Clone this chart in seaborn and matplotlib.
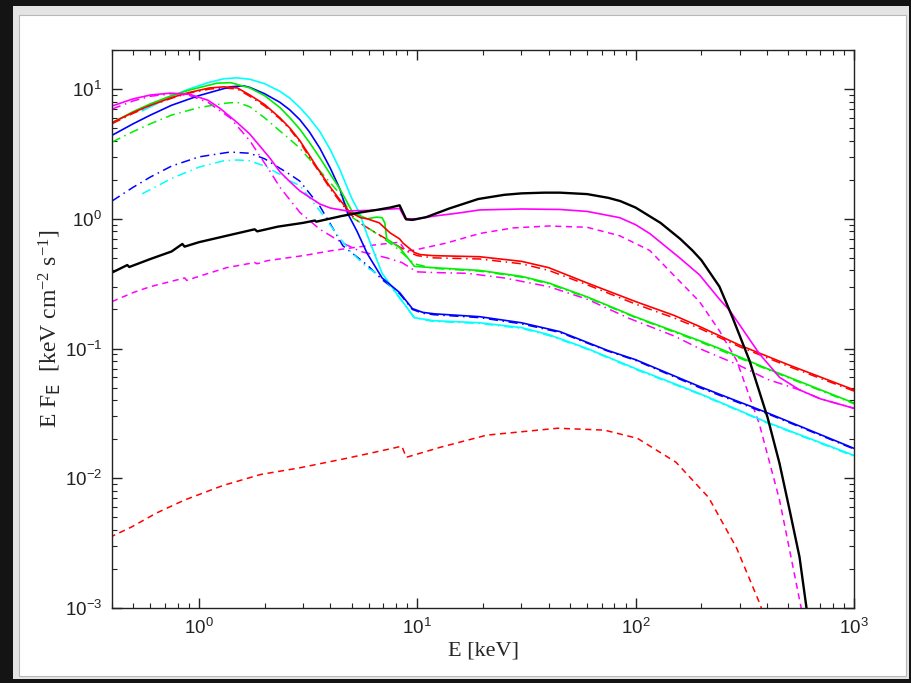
import matplotlib

matplotlib.use("Agg")
import matplotlib.pyplot as plt
import numpy as np
import pandas as pd
import seaborn as sns
from matplotlib.patches import Rectangle
from matplotlib.ticker import LogLocator, NullFormatter

# ---- data (E in keV, E*F_E in keV cm^-2 s^-1) ----
black_e = [0.40, 0.47, 0.48, 0.60, 0.75, 0.84, 0.86, 1.00, 1.34, 1.80, 1.85, 2.30,
           3.00, 3.40, 3.45, 4.50, 5.50, 6.50, 7.50, 8.30, 8.90, 9.50, 11.0, 14.0,
           19.0, 25.0, 30.0, 38.0, 45.0, 60.0, 75.0, 85.0, 100, 130, 160, 182, 200,
           242, 278, 332, 402, 456, 507, 563, 606, 640]
black_f = [0.385, 0.44, 0.425, 0.49, 0.56, 0.64, 0.61, 0.66, 0.74, 0.83, 0.80, 0.87,
           0.93, 0.97, 0.95, 1.05, 1.12, 1.17, 1.22, 1.27, 0.99, 0.98, 1.03, 1.20,
           1.42, 1.53, 1.57, 1.59, 1.59, 1.55, 1.45, 1.37, 1.22, 0.93, 0.70, 0.57, 0.48,
           0.30, 0.173, 0.081, 0.0294, 0.013, 0.0057, 0.00247, 0.001, 0.0005]

mag_e = [0.40, 0.50, 0.60, 0.74, 0.91, 1.10, 1.25, 1.50, 1.71, 2.11, 2.35, 2.61, 2.90,
         3.58, 4.00, 4.76, 6.00, 7.00, 8.30, 8.80, 10.0, 12.0, 15.6, 19.3, 30.0, 45.0,
         60.0, 84.5, 100, 116, 159, 196, 242, 270, 369, 456, 563, 700, 1000]
mag_f = [7.4, 8.4, 9.0, 9.3, 9.1, 8.2, 7.1, 5.5, 4.5, 2.95, 2.3, 1.93, 1.64,
         1.30, 1.21, 1.15, 1.16, 1.18, 1.20, 1.00, 1.00, 1.05, 1.11, 1.17, 1.19, 1.18,
         1.14, 1.02, 0.90, 0.77, 0.50, 0.37, 0.24, 0.196, 0.091, 0.060, 0.048, 0.041, 0.0346]

mag_dd_e = [0.40, 0.50, 0.60, 0.75, 0.91, 1.10, 1.39, 1.71, 2.11, 2.35, 2.61, 2.90,
            3.58, 4.56, 5.50, 7.25, 8.50, 9.95, 12.0, 16.9, 25.0, 40.0, 60.0, 94.0,
            150, 196, 299, 400, 563, 700, 1000]
mag_dd_f = [7.0, 8.1, 8.8, 9.2, 8.9, 7.9, 6.0, 4.0, 2.34, 1.75, 1.40, 1.12,
            0.83, 0.65, 0.56, 0.50, 0.46, 0.39, 0.385, 0.38, 0.35, 0.30, 0.24, 0.17,
            0.125, 0.10, 0.074, 0.058, 0.048, 0.041, 0.0346]

mag_ds_e = [0.40, 0.50, 0.60, 0.75, 0.86, 0.88, 1.00, 1.34, 1.80, 1.85, 2.05, 3.00,
            4.10, 5.50, 7.00, 8.30, 8.80, 9.50, 13.6, 19.3, 27.4, 40.0, 60.0, 84.5,
            116, 159, 196, 242, 290, 369, 456, 507, 573, 610]
mag_ds_f = [0.23, 0.27, 0.30, 0.33, 0.35, 0.335, 0.36, 0.42, 0.46, 0.45, 0.475, 0.52,
            0.57, 0.61, 0.64, 0.66, 0.57, 0.57, 0.65, 0.77, 0.85, 0.88, 0.86, 0.74,
            0.57, 0.33, 0.23, 0.137, 0.081, 0.026, 0.0068, 0.0028, 0.001, 0.0006]

red_e = [0.40, 0.50, 0.60, 0.75, 0.90, 1.12, 1.30, 1.50, 1.71, 2.00, 2.35, 2.61, 2.90,
         3.20, 3.58, 4.00, 4.42, 4.90, 5.50, 5.90, 6.70, 7.50, 8.30, 8.60, 9.70, 10.3,
         11.8, 19.3, 30.0, 40.0, 60.0, 100, 150, 196, 300, 500, 1000]
red_f = [5.5, 6.6, 7.5, 8.6, 9.4, 10.2, 10.4, 10.2, 9.0, 7.6, 6.0, 5.0, 4.0,
         3.1, 2.3, 1.75, 1.40, 1.13, 1.02, 1.00, 0.93, 0.78, 0.70, 0.65, 0.55, 0.53,
         0.52, 0.51, 0.47, 0.42, 0.32, 0.23, 0.18, 0.148, 0.106, 0.075, 0.048]

red_dd_e = [0.40, 0.50, 0.60, 0.75, 0.90, 1.12, 1.30, 1.50, 1.71, 2.00, 2.35, 2.61,
            2.90, 3.20, 3.58, 4.00, 4.42, 4.90, 5.50, 6.00, 7.00, 8.00, 9.00, 10.0,
            11.8, 19.3, 30.0, 40.0, 60.0, 100, 150, 196, 300, 500, 1000]
red_dd_f = [5.4, 6.5, 7.4, 8.5, 9.3, 10.0, 10.2, 10.0, 8.8, 7.4, 5.9, 4.9,
            3.9, 3.0, 2.25, 1.7, 1.36, 1.10, 0.92, 0.84, 0.72, 0.63, 0.56, 0.52,
            0.50, 0.49, 0.45, 0.40, 0.31, 0.22, 0.172, 0.143, 0.103, 0.073, 0.047]

red_ds_e = [0.39, 0.49, 0.64, 0.86, 1.29, 1.92, 2.87, 4.70, 7.70, 8.50, 8.90, 12.7,
            20.8, 44.0, 72.0, 102, 153, 216, 290, 373, 400]
red_ds_f = [0.0035, 0.0042, 0.0054, 0.0068, 0.0088, 0.0107, 0.012, 0.0142, 0.017,
            0.0177, 0.0145, 0.0173, 0.0215, 0.0243, 0.0235, 0.0203, 0.0133, 0.0071,
            0.0029, 0.00105, 0.0007]

green_e = [0.40, 0.50, 0.60, 0.75, 0.90, 1.21, 1.40, 1.71, 2.00, 2.35, 2.61, 2.90,
           3.20, 3.58, 4.00, 4.42, 5.06, 5.90, 6.50, 6.90, 7.10, 7.25, 8.30, 9.70,
           11.8, 19.3, 30.0, 40.0, 60.0, 100, 196, 242, 400, 1000]
green_f = [5.5, 6.7, 7.7, 8.9, 9.8, 11.1, 11.2, 10.2, 8.9, 7.2, 6.0, 4.9,
           3.9, 2.95, 2.2, 1.70, 1.12, 1.00, 1.03, 1.02, 0.93, 0.70, 0.60, 0.43,
           0.42, 0.40, 0.36, 0.32, 0.25, 0.175, 0.115, 0.10, 0.07, 0.038]

green_dd_e = [0.40, 0.50, 0.60, 0.75, 1.00, 1.34, 1.50, 1.71, 2.00, 2.35, 2.61, 2.90,
              3.58, 4.42, 5.06, 6.50, 8.00, 9.70, 11.8, 19.3, 30.0, 40.0, 60.0, 100,
              196, 400, 1000]
green_dd_f = [3.9, 4.7, 5.4, 6.3, 7.2, 7.8, 7.9, 7.3, 6.0, 4.75, 4.1, 3.5,
              2.34, 1.56, 1.02, 0.77, 0.60, 0.45, 0.415, 0.395, 0.355, 0.315, 0.247, 0.173,
              0.113, 0.069, 0.0375]

blue_e = [0.40, 0.50, 0.60, 0.75, 1.00, 1.39, 1.60, 1.71, 2.00, 2.35, 2.61, 2.90,
          3.20, 3.58, 4.00, 4.42, 4.80, 5.30, 5.90, 6.90, 8.30, 9.50, 10.6, 12.0,
          19.3, 30.0, 45.0, 74.0, 100, 196, 400, 1000]
blue_f = [4.4, 5.4, 6.3, 7.5, 8.9, 10.4, 10.6, 10.3, 9.2, 7.9, 6.9, 5.8,
          4.7, 3.5, 2.45, 1.70, 1.10, 0.80, 0.54, 0.35, 0.27, 0.203, 0.19, 0.185,
          0.176, 0.158, 0.135, 0.097, 0.082, 0.051, 0.032, 0.017]

blue_dd_e = [0.40, 0.50, 0.60, 0.75, 1.00, 1.39, 1.71, 2.00, 2.35, 2.61, 2.90, 3.58,
             4.10, 4.56, 5.90, 6.90, 8.30, 9.50, 10.6, 12.0, 19.3, 30.0, 45.0, 74.0,
             100, 196, 400, 1000]
blue_dd_f = [1.37, 1.75, 2.1, 2.55, 3.0, 3.27, 3.2, 2.9, 2.45, 2.2, 1.95, 1.25,
             0.85, 0.62, 0.44, 0.34, 0.265, 0.20, 0.187, 0.182, 0.173, 0.155, 0.133, 0.096,
             0.081, 0.050, 0.0315, 0.0168]

cyan_e = [0.55, 0.65, 0.75, 0.90, 1.10, 1.30, 1.49, 1.71, 2.00, 2.35, 2.61, 2.90,
          3.20, 3.58, 4.00, 4.42, 5.00, 5.46, 5.90, 6.90, 8.30, 9.70, 11.8, 19.3,
          30.0, 40.0, 60.0, 100, 196, 400, 1000]
cyan_f = [6.8, 7.8, 8.8, 10.0, 11.2, 12.0, 12.2, 11.9, 11.0, 9.6, 8.5, 7.2,
          6.0, 4.7, 3.4, 2.4, 1.45, 1.09, 0.75, 0.38, 0.247, 0.173, 0.164, 0.158,
          0.145, 0.128, 0.100, 0.070, 0.045, 0.027, 0.015]

cyan_dd_e = [0.55, 0.65, 0.75, 1.00, 1.30, 1.50, 1.71, 2.00, 2.35, 2.61, 2.90, 3.58,
             4.42, 5.00, 5.90, 6.90, 8.30, 9.70, 11.8, 19.3, 30.0, 40.0, 60.0, 100,
             196, 400, 1000]
cyan_dd_f = [1.56, 1.8, 2.05, 2.5, 2.8, 2.84, 2.8, 2.55, 2.2, 1.96, 1.8, 1.15,
             0.71, 0.55, 0.42, 0.36, 0.245, 0.172, 0.162, 0.156, 0.143, 0.126, 0.099, 0.069,
             0.0445, 0.0267, 0.0148]

DASH = (0, (4, 3))
DASHDOT = (0, (6, 3, 1, 3))

# (energies, fluxes, colour, linestyle, linewidth), drawn back to front
series = [
    (red_ds_e, red_ds_f, "#ff0000", DASH, 1.1),
    (mag_ds_e, mag_ds_f, "#ff00ff", DASH, 1.1),
    (mag_dd_e, mag_dd_f, "#ff00ff", DASHDOT, 1.1),
    (green_dd_e, green_dd_f, "#00ee00", DASHDOT, 1.1),
    (blue_dd_e, blue_dd_f, "#0000ff", DASHDOT, 1.1),
    (cyan_dd_e, cyan_dd_f, "#00ffff", DASHDOT, 1.1),
    (red_dd_e, red_dd_f, "#ff0000", DASHDOT, 1.1),
    (cyan_e, cyan_f, "#00ffff", "-", 1.2),
    (blue_e, blue_f, "#0000ff", "-", 1.2),
    (green_e, green_f, "#00ee00", "-", 1.2),
    (red_e, red_f, "#ff0000", "-", 1.2),
    (mag_e, mag_f, "#ff00ff", "-", 1.2),
    (black_e, black_f, "#000000", "-", 1.7),
]

sns.set_style("ticks")
plt.rcParams["font.family"] = ["Liberation Sans", "DejaVu Sans"]
plt.rcParams["mathtext.default"] = "regular"

W, H = 911, 683
fig = plt.figure(figsize=(W / 100, H / 100), dpi=100)
fig.patch.set_facecolor("#141414")

# light panel behind the plot, like the screenshot frame
fig.add_artist(Rectangle((13 / W, 1 - 679 / H), 896 / W, 673 / H,
                         transform=fig.transFigure, facecolor="#e4e4e4",
                         edgecolor="none", zorder=0))
fig.add_artist(Rectangle((19 / W, 1 - 676 / H), 887 / W, 661 / H,
                         transform=fig.transFigure, facecolor="white",
                         edgecolor="#b8b8b8", linewidth=0.8, zorder=0))

ax = fig.add_axes([112 / W, 1 - 608 / H, (854 - 112) / W, (608 - 50) / H])
ax.set_facecolor("white")
ax.set_xscale("log")
ax.set_yscale("log")

for e, f, color, ls, lw in series:
    df = pd.DataFrame({"E": e, "F": f})
    sns.lineplot(data=df, x="E", y="F", ax=ax, color=color, linestyle=ls,
                 linewidth=lw, estimator=None, sort=False)

ax.set_xlim(0.4, 1000)
ax.set_ylim(1e-3, 20)

ax.xaxis.set_minor_locator(LogLocator(base=10, subs=np.arange(2, 10)))
ax.yaxis.set_minor_locator(LogLocator(base=10, subs=np.arange(2, 10)))
ax.xaxis.set_minor_formatter(NullFormatter())
ax.yaxis.set_minor_formatter(NullFormatter())
ax.tick_params(which="both", direction="in", top=True, right=True, color="#222222")
ax.tick_params(which="major", length=7, width=1.0, labelsize=13.5, pad=7,
               labelcolor="#222222")
ax.tick_params(which="minor", length=3.8, width=0.8)
for sp in ax.spines.values():
    sp.set_linewidth(1.0)
    sp.set_color("#222222")

ax.set_xlabel("E [keV]", family="Liberation Serif", fontsize=16, labelpad=3)
ax.set_ylabel(r"E F$_{\rm E}$  [keV cm$^{-2}$ s$^{-1}$]", family="Liberation Serif",
              fontsize=17, labelpad=1)

fig.savefig("out.png", dpi=100, facecolor=fig.get_facecolor())
plt.close(fig)
